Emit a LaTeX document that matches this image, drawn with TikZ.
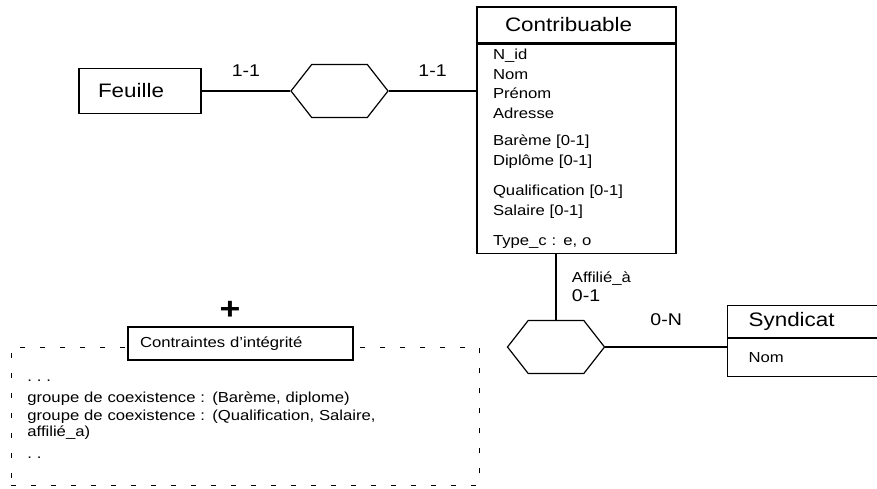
\documentclass[tikz,border=0pt]{standalone}
\usepackage{fontspec}
\setmainfont[FakeStretch=1.15]{Liberation Sans}
\usetikzlibrary{positioning,shapes.symbols}
\newcommand{\entfont}{\fontsize{19.5}{23}\selectfont}
\newcommand{\attfont}{\fontsize{14.5}{19}\selectfont}
\newcommand{\cardfont}{\fontsize{17}{20}\selectfont}

\begin{document}
\begin{tikzpicture}[x=1pt,y=-1pt,line width=1.2pt]
  \tikzstyle{entity}=[draw,align=left]
  \tikzstyle{relation}=[draw,shape=signal,signal to=east and west,
                        signal pointer angle=104,minimum width=97,minimum height=53]
  \tikzstyle{card}=[font=\cardfont]

  \useasboundingbox (0,0) rectangle (877,489);
  \clip (0,0) rectangle (877,489);

  % entities and relations
  \node[entity,font=\entfont,inner xsep=19,text width=84,minimum height=45] (F) at (140,91) {Feuille};
  \node[relation] (R1) at (339.5,91) {};
  \node[entity,font=\entfont,inner xsep=28,text width=143,minimum height=36] (C) at (576.5,25) {Contribuable};
  \node[entity,font=\fontsize{14.5}{19.5}\selectfont,inner xsep=16,inner ysep=5,text width=167,below=0pt of C] (CA)
       {N\_id\\Nom\\Prénom\\Adresse\\[8pt]Barème [0-1]\\Diplôme [0-1]\\[11pt]Qualification [0-1]\\Salaire [0-1]\\[11pt]Type\_c : e, o};
  \node[relation] (R2) at (556,347) {};
  \node[entity,font=\entfont,inner xsep=21,text width=111,minimum height=32,anchor=north west] (S) at (727,305) {Syndicat};
  \node[entity,font=\attfont,inner xsep=21,text width=111,minimum height=38,below=0pt of S] (SA) {Nom};

  % integrity constraints
  \node[draw,dash pattern=on 5pt off 15pt,line width=0.8pt,font=\attfont,inner xsep=16,text width=436,
        minimum height=138,align=left,anchor=north west] (D) at (11,347)
       {\rule{0pt}{7pt}.\,\,.\,\,.\\[2pt]groupe de coexistence : (Barème, diplome)\\[-1pt]groupe de coexistence : (Qualification, Salaire,\\[-3pt]affilié\_a)\\[3pt].\,\,.};
  \node[entity,fill=white,font=\attfont,inner xsep=12,text width=201,minimum height=33] (K) at (240.5,343.5) {Contraintes d'intégrité};
  \node[font=\fontsize{31}{31}\selectfont\bfseries] (P) at (230,310) {+};

  \path (F) edge node[card,above=11pt] {1-1} (R1)
        (R1) edge node[card,above=11pt] {1-1} (R1 -| C.west)
        (R2.north |- CA.south) edge node[right=12pt,align=left] {\attfont Affilié\_à\\[3pt]\cardfont 0-1} (R2)
        (R2) edge node[card,above=17pt] {0-N} (R2 -| S.west);

\end{tikzpicture}
\end{document}
